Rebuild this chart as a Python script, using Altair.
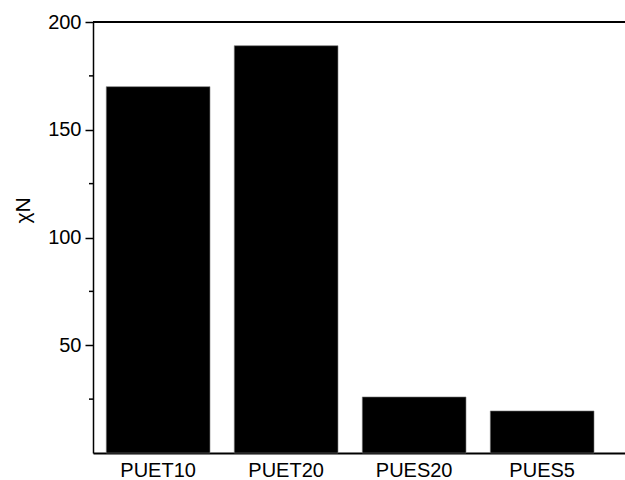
import altair as alt
import pandas as pd

categories = ["PUET10", "PUET20", "PUES20", "PUES5"]
values = [170, 189, 26, 19.5]
major_ticks = [50, 100, 150, 200]
minor_ticks = [25, 75, 125, 175]
y_top = [200]

df = pd.DataFrame({"sample": categories, "chiN": values})
minor_df = pd.DataFrame({"v": minor_ticks})
top_df = pd.DataFrame({"v": y_top})

W, H = 532, 431
FONT = "Liberation Sans"

yscale = alt.Scale(domain=[0, 200], nice=False)

bars = alt.Chart(df).mark_bar(color="black", stroke="#777777", strokeWidth=0.6).encode(
    x=alt.X("sample:N", sort=categories,
            scale=alt.Scale(paddingInner=0.19, paddingOuter=0.173, align=0.3),
            axis=alt.Axis(title=None, labelAngle=0, ticks=False, domainWidth=2,
                          domainColor="black", labelFontSize=20, labelFont=FONT,
                          labelColor="black", labelPadding=7)),
    y=alt.Y("chiN:Q", scale=yscale,
            axis=alt.Axis(values=major_ticks, title="χN", tickSize=8, tickWidth=1.5,
                          tickColor="black", domainColor="black", domainWidth=1.5,
                          labelFontSize=20, labelFont=FONT, labelColor="black",
                          labelPadding=4, grid=False,
                          titleFontSize=21, titleFont=FONT, titleFontWeight="normal",
                          titleColor="black", titleX=-70, titleY=188,
                          titleAlign="center", titleBaseline="middle"))
)

minor = alt.Chart(minor_df).mark_rule(color="black", strokeWidth=1.5).encode(
    y=alt.Y("v:Q", scale=yscale),
    x=alt.value(-4), x2=alt.value(0)
)

top = alt.Chart(top_df).mark_rule(color="black", strokeWidth=2).encode(
    y=alt.Y("v:Q", scale=yscale),
    x=alt.value(0), x2=alt.value(W)
)

chart = alt.layer(bars, minor, top).properties(
    width=W, height=H,
    padding={"left": 93, "top": 22, "right": 0, "bottom": 27},
    autosize="none",
).configure_view(stroke=None).configure(background="white")

chart.save("out.html", embed_options={"renderer": "svg", "actions": False})
